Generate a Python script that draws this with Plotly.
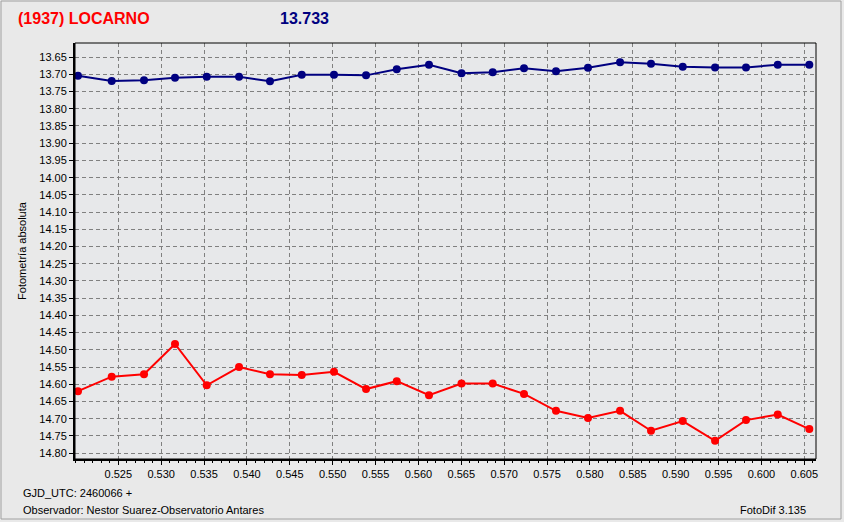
import plotly.graph_objects as go

x_jd = [0.52030, 0.52423, 0.52800, 0.53161, 0.53531, 0.53908, 0.54269, 0.54639,
        0.55015, 0.55389, 0.55747, 0.56123, 0.56502, 0.56866, 0.57231, 0.57604,
        0.57977, 0.58351, 0.58712, 0.59082, 0.59459, 0.59820, 0.60190, 0.60558]

blue_mag = [13.704, 13.719, 13.717, 13.710, 13.707, 13.707, 13.720, 13.701,
            13.701, 13.703, 13.685, 13.672, 13.697, 13.694, 13.682, 13.691,
            13.681, 13.665, 13.669, 13.678, 13.680, 13.680, 13.672, 13.672]

red_mag = [14.620, 14.578, 14.571, 14.483, 14.603, 14.550, 14.571, 14.573,
           14.564, 14.614, 14.591, 14.632, 14.598, 14.598, 14.628, 14.677,
           14.698, 14.677, 14.735, 14.707, 14.764, 14.704, 14.688, 14.730]

y_ticks = [round(13.65 + 0.05 * i, 2) for i in range(24)]
x_ticks = [round(0.525 + 0.005 * i, 3) for i in range(17)]

title_left = "(1937) LOCARNO"
title_mid = "13.733"
y_title = "Fotometría absoluta"
foot1 = "GJD_UTC: 2460066 +"
foot2 = "Observador: Nestor Suarez-Observatorio Antares"
foot3 = "FotoDif 3.135"

FONT = "Liberation Sans, Arial, sans-serif"

fig = go.Figure()
fig.add_trace(go.Scatter(x=x_jd, y=blue_mag, mode="lines+markers",
                         line=dict(color="#000080", width=2),
                         marker=dict(color="#000080", size=8, symbol="circle"),
                         showlegend=False))
fig.add_trace(go.Scatter(x=x_jd, y=red_mag, mode="lines+markers",
                         line=dict(color="#FF0000", width=2),
                         marker=dict(color="#FF0000", size=8, symbol="circle"),
                         showlegend=False))

fig.update_layout(
    width=844, height=522,
    margin=dict(l=75, r=28, t=43, b=63),
    paper_bgcolor="#E9E9E9",
    plot_bgcolor="#E7E8EA",
    font=dict(family=FONT, size=11, color="#000000"),
    xaxis=dict(range=[0.51995, 0.60636], tickvals=x_ticks,
               ticktext=[f"{v:.3f}" for v in x_ticks],
               showgrid=True, gridcolor="#808080", griddash="4px,3px", gridwidth=1,
               showline=True, linecolor="#000000", linewidth=2,
               ticks="outside", ticklen=4, tickcolor="#000000",
               minor=dict(dtick=0.001, tick0=0.52, ticks="outside", ticklen=2,
                          tickcolor="#000000", showgrid=False),
               zeroline=False, tickfont=dict(size=11), automargin=False),
    yaxis=dict(range=[14.817, 13.609], tickvals=y_ticks,
               ticktext=[f"{v:.2f}" for v in y_ticks],
               showgrid=True, gridcolor="#808080", griddash="4px,3px", gridwidth=1,
               showline=True, linecolor="#000000", linewidth=2,
               ticks="outside", ticklen=4, tickcolor="#000000",
               zeroline=False, tickfont=dict(size=11), automargin=False,
               title=dict(text=y_title, font=dict(size=11), standoff=10)),
)

# top/right thin border of the plot area
fig.add_shape(type="rect", xref="x domain", yref="y domain", x0=0, x1=1, y0=0, y1=1,
              line=dict(color="#000000", width=1), layer="above")
# outer frame
fig.add_shape(type="rect", xref="paper", yref="paper", x0=-74/741, x1=1 + 25/741,
              y0=-60/416, y1=1 + 42/416,
              line=dict(color="#A0A0A0", width=1), layer="below")

fig.add_annotation(text=f"<b>{title_left}</b>", xref="paper", yref="paper",
                   x=-59/741, y=1 + 24/416, xanchor="left", yanchor="middle",
                   showarrow=False, font=dict(size=16, color="#FF0000", family=FONT))
fig.add_annotation(text=f"<b>{title_mid}</b>", xref="paper", yref="paper",
                   x=(278 - 75)/741, y=1 + 24/416, xanchor="left", yanchor="middle",
                   showarrow=False, font=dict(size=16, color="#000080", family=FONT))
fig.add_annotation(text=foot1, xref="paper", yref="paper",
                   x=-54/741, y=-(493 - 459)/416, xanchor="left", yanchor="middle",
                   showarrow=False, font=dict(size=11, family=FONT))
fig.add_annotation(text=foot2, xref="paper", yref="paper",
                   x=-54/741, y=-(510 - 459)/416, xanchor="left", yanchor="middle",
                   showarrow=False, font=dict(size=11, family=FONT))
fig.add_annotation(text=foot3, xref="paper", yref="paper",
                   x=(808 - 75)/741, y=-(510 - 459)/416, xanchor="right", yanchor="middle",
                   showarrow=False, font=dict(size=11, family=FONT))

fig.write_html("out.html", config={"displayModeBar": False},
               post_script="document.body.style.margin='0px';document.body.style.padding='0px';document.body.style.overflow='hidden';")
